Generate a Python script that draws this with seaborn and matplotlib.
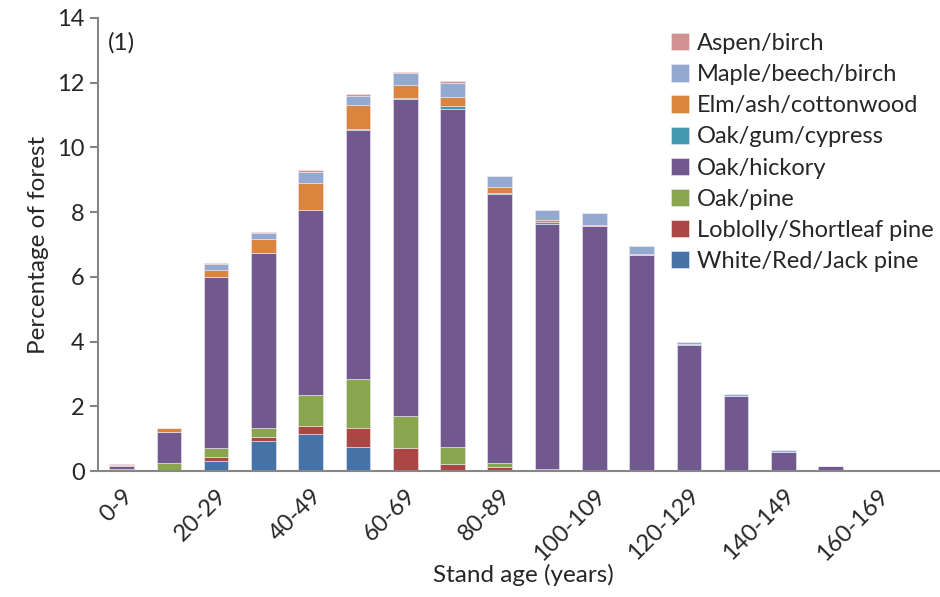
import pandas as pd
import matplotlib.pyplot as plt
import seaborn as sns

# stand age classes (x categories)
ages = ["0-9", "10-19", "20-29", "30-39", "40-49", "50-59", "60-69", "70-79", "80-89",
        "90-99", "100-109", "110-119", "120-129", "130-139", "140-149", "150-159",
        "160-169", "170-179"]

# percentage of forest by forest-type group
white_red_jack = [0.02, 0.00, 0.32, 0.94, 1.13, 0.75, 0.00, 0.00, 0.00, 0.00, 0.00, 0.00, 0.00, 0.00, 0.00, 0.00, 0.00, 0.00]
loblolly       = [0.01, 0.03, 0.12, 0.10, 0.26, 0.59, 0.70, 0.21, 0.12, 0.00, 0.00, 0.00, 0.00, 0.00, 0.00, 0.00, 0.00, 0.00]
oak_pine       = [0.02, 0.21, 0.28, 0.30, 0.96, 1.50, 1.01, 0.52, 0.14, 0.06, 0.04, 0.01, 0.00, 0.00, 0.00, 0.00, 0.00, 0.00]
oak_hickory    = [0.10, 0.96, 5.29, 5.40, 5.71, 7.71, 9.77, 10.46, 8.30, 7.58, 7.52, 6.67, 3.90, 2.33, 0.60, 0.15, 0.03, 0.04]
oak_gum        = [0.00, 0.00, 0.00, 0.00, 0.00, 0.02, 0.05, 0.08, 0.02, 0.05, 0.00, 0.00, 0.03, 0.00, 0.00, 0.00, 0.00, 0.00]
elm_ash        = [0.03, 0.13, 0.21, 0.43, 0.85, 0.75, 0.40, 0.28, 0.19, 0.06, 0.03, 0.02, 0.00, 0.00, 0.00, 0.00, 0.00, 0.00]
maple_beech    = [0.02, 0.01, 0.18, 0.19, 0.34, 0.28, 0.37, 0.43, 0.35, 0.33, 0.38, 0.25, 0.06, 0.05, 0.04, 0.01, 0.00, 0.00]
aspen_birch    = [0.02, 0.00, 0.02, 0.02, 0.06, 0.05, 0.02, 0.06, 0.01, 0.00, 0.00, 0.00, 0.00, 0.00, 0.00, 0.00, 0.00, 0.00]

# legend order, top of the stack first
groups = ["Aspen/birch", "Maple/beech/birch", "Elm/ash/cottonwood", "Oak/gum/cypress",
          "Oak/hickory", "Oak/pine", "Loblolly/Shortleaf pine", "White/Red/Jack pine"]
series = [aspen_birch, maple_beech, elm_ash, oak_gum, oak_hickory, oak_pine, loblolly, white_red_jack]
colors = ["#D19392", "#93A9CF", "#DB843D", "#4198AF", "#71588F", "#89A54E", "#AA4643", "#4572A7"]

rows = []
for g, vals in zip(groups, series):
    for i, v in enumerate(vals):
        rows.append({"age": i, "group": g, "pct": v})
df = pd.DataFrame(rows)

sns.set_style("white")
plt.rcParams['font.family'] = ['Lato', 'DejaVu Sans']
plt.rcParams['font.size'] = 17

fig = plt.figure(figsize=(9.4, 5.97), dpi=100)
ax = fig.add_axes([0.1043, 0.211, 0.905, 0.759])

sns.histplot(data=df, x="age", weights="pct", hue="group", hue_order=groups,
             palette=colors, multiple="stack", discrete=True, shrink=0.52,
             alpha=1, edgecolor="#EEEAF2", linewidth=0.4, ax=ax)

ax.set_xlim(-0.5, len(ages) - 0.5)
ax.set_ylim(0, 14)
ax.set_yticks(range(0, 15, 2))

# labels on every other category, tick marks between categories
ax.set_xticks(range(0, len(ages), 2))
ax.set_xticklabels(ages[::2], rotation=45, ha="right", rotation_mode="anchor")
ax.set_xticks([i - 0.5 for i in range(len(ages) + 1)], minor=True)
ax.tick_params(axis="x", which="major", length=0, pad=10, labelsize=17)
ax.tick_params(axis="x", which="minor", length=6, width=1.5, color="#868686", direction="out")
ax.tick_params(axis="y", length=6, width=1.5, color="#868686", direction="out", labelsize=17, left=True)

for s in ["top", "right"]:
    ax.spines[s].set_visible(False)
for s in ["left", "bottom"]:
    ax.spines[s].set_color("#868686")
    ax.spines[s].set_linewidth(1.5)

ax.set_xlabel("Stand age (years)", fontsize=17.5, labelpad=0)
ax.set_ylabel("Percentage of forest", fontsize=17.5, labelpad=6)
ax.text(0.012, 0.93, "(1)", transform=ax.transAxes, fontsize=17.5)

sns.move_legend(ax, "upper left", bbox_to_anchor=(671 / 940, 1 - 33 / 597),
                bbox_transform=fig.transFigure, frameon=False, title=None,
                fontsize=17, borderaxespad=0, borderpad=0, handlelength=0.75,
                handleheight=0.75, handletextpad=0.35, labelspacing=0.43)

fig.savefig("out.png", dpi=100)
